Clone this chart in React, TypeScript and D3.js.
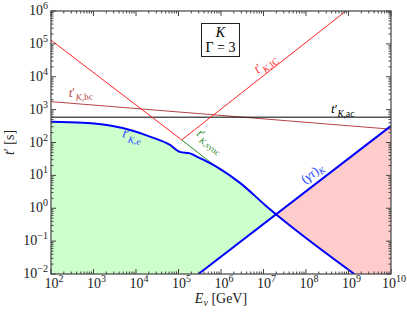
import React from "react";
import * as d3 from "d3";

// chart values
const xDomain = [1e2, 1e10];
const yDomain = [1e-2, 1e6];
const xDecades = [2, 3, 4, 5, 6, 7, 8, 9, 10];
const yDecades = [-2, -1, 0, 1, 2, 3, 4, 5, 6];

const icE = [1e2, 1.19e5, 8.7e8];
const icT = [1.3e5, 120, 1e6];
const hcE = [1e2, 1e10];
const hcT = [1750, 254];
const acE = [1e2, 1e10];
const acT = [590, 590];
const syncE = [1.19e5, 1e6];
const syncT = [120, 14];
const eE = [1e2, 566, 2443, 7230, 21300, 63000, 1.08e5, 1.87e5, 2.68e5, 5.51e5, 9.47e5, 2.8e6, 1.19e7, 1.37e9];
const eT = [431, 400, 330, 241, 151, 84.5, 51.8, 46.6, 37.3, 23.5, 15.8, 5.9, 1.13, 0.01];
const gtE = [2.95e5, 1e10];
const gtT = [0.01, 320];

const W = 407;
const H = 314;
const M = { top: 11, right: 16, bottom: 40, left: 51 };
const FONT = "Liberation Serif, DejaVu Serif, serif";

const zip = (a: number[], b: number[]) => a.map((v, i) => [v, b[i]] as [number, number]);

const Sub = ({ main, sub, italicSub, size = 13 }: any) => (
  <>
    <tspan fontStyle="italic">{main}</tspan>
    <tspan>′</tspan>
    <tspan fontSize={size * 0.72} dy={size * 0.3}>
      <tspan fontStyle="italic">K</tspan>
      {","}
      {italicSub ? <tspan fontStyle="italic">{sub}</tspan> : sub}
    </tspan>
  </>
);

export default function App() {
  const x = d3.scaleLog().domain(xDomain).range([M.left, W - M.right]);
  const y = d3.scaleLog().domain(yDomain).range([H - M.bottom, M.top]);
  const x0 = M.left, x1 = W - M.right, y0 = H - M.bottom, y1 = M.top;

  const line = d3
    .line<[number, number]>()
    .x((d) => x(d[0]))
    .y((d) => y(d[1]));
  const smooth = d3
    .line<[number, number]>()
    .x((d) => x(d[0]))
    .y((d) => y(d[1]))
    .curve(d3.curveMonotoneX);

  const ePts = zip(eE, eT);
  const gtPts = zip(gtE, gtT);

  // green: under t'_e, left of (γτ); red: under (γτ), above t'_e
  const greenArea = smooth(ePts) + "L" + x(xDomain[0]) + "," + y(yDomain[0]) + "Z";
  const aboveGt = line([...gtPts, [xDomain[1], yDomain[1]], [xDomain[0], yDomain[1]], [xDomain[0], yDomain[0]]]) + "Z";
  const redArea = line([...gtPts, [xDomain[1], yDomain[0]]]) + "Z";
  const aboveE =
    smooth(ePts) +
    "L" + x(xDomain[1]) + "," + y(yDomain[0]) +
    "L" + x(xDomain[1]) + "," + y(yDomain[1]) +
    "L" + x(xDomain[0]) + "," + y(yDomain[1]) + "Z";

  const minorX: number[] = [];
  xDecades.slice(0, -1).forEach((d) => {
    for (let k = 2; k < 10; k++) minorX.push(k * Math.pow(10, d));
  });
  const minorY: number[] = [];
  yDecades.slice(0, -1).forEach((d) => {
    for (let k = 2; k < 10; k++) minorY.push(k * Math.pow(10, d));
  });

  const ang = (Math.atan((y(1) - y(10)) / (x(10) - x(1))) * 180) / Math.PI;
  const axisCol = "#444";
  const exp = (n: number) => (n < 0 ? "−" + Math.abs(n) : String(n));

  return (
    <svg
      width={W}
      height={H}
      style={{ position: "absolute", left: 0, top: 0, background: "#fff", fontFamily: FONT }}
    >
      <defs>
        <clipPath id="plot">
          <rect x={x0} y={y1} width={x1 - x0} height={y0 - y1} />
        </clipPath>
        <clipPath id="aboveGt">
          <path d={aboveGt} />
        </clipPath>
        <clipPath id="aboveE">
          <path d={aboveE} />
        </clipPath>
      </defs>

      <g clipPath="url(#plot)">
        <g clipPath="url(#aboveGt)">
          <path d={greenArea} fill="#ccffcc" />
        </g>
        <g clipPath="url(#aboveE)">
          <path d={redArea} fill="#ffcccc" />
        </g>
        <path d={line(zip(hcE, hcT))!} fill="none" stroke="#b84444" strokeWidth={1} />
        <path d={line(zip(acE, acT))!} fill="none" stroke="#000" strokeWidth={1} />
        <path d={line(zip(icE, icT))!} fill="none" stroke="#ff2020" strokeWidth={1} />
        <path d={line(zip(syncE, syncT))!} fill="none" stroke="#2a8a2a" strokeWidth={1} />
        <path d={smooth(ePts)!} fill="none" stroke="#0000ff" strokeWidth={2} />
        <path d={line(gtPts)!} fill="none" stroke="#0000ff" strokeWidth={2} />
      </g>

      {/* frame + ticks */}
      <rect x={x0} y={y1} width={x1 - x0} height={y0 - y1} fill="none" stroke={axisCol} strokeWidth={1.2} />
      {xDecades.map((d) => {
        const px = x(Math.pow(10, d));
        return (
          <g key={"xm" + d} stroke={axisCol}>
            <line x1={px} x2={px} y1={y0} y2={y0 - 5} />
            <line x1={px} x2={px} y1={y1} y2={y1 + 5} />
          </g>
        );
      })}
      {minorX.map((v, i) => (
        <g key={"xn" + i} stroke={axisCol}>
          <line x1={x(v)} x2={x(v)} y1={y0} y2={y0 - 2.5} />
          <line x1={x(v)} x2={x(v)} y1={y1} y2={y1 + 2.5} />
        </g>
      ))}
      {yDecades.map((d) => {
        const py = y(Math.pow(10, d));
        return (
          <g key={"ym" + d} stroke={axisCol}>
            <line x1={x0} x2={x0 + 5} y1={py} y2={py} />
            <line x1={x1} x2={x1 - 5} y1={py} y2={py} />
          </g>
        );
      })}
      {minorY.map((v, i) => (
        <g key={"yn" + i} stroke={axisCol}>
          <line x1={x0} x2={x0 + 2.5} y1={y(v)} y2={y(v)} />
          <line x1={x1} x2={x1 - 2.5} y1={y(v)} y2={y(v)} />
        </g>
      ))}

      {/* tick labels */}
      {xDecades.map((d) => (
        <text key={"xl" + d} x={x(Math.pow(10, d)) + 3} y={y0 + 14} textAnchor="middle" fontSize={14} fill="#222">
          10<tspan fontSize={10} dy={-6}>{exp(d)}</tspan>
        </text>
      ))}
      {yDecades.map((d) => (
        <text key={"yl" + d} x={x0 - 3} y={y(Math.pow(10, d)) + 4} textAnchor="end" fontSize={14} fill="#222">
          10<tspan fontSize={10} dy={-6}>{exp(d)}</tspan>
        </text>
      ))}

      {/* axis titles */}
      <text x={(x0 + x1) / 2} y={303} textAnchor="middle" fontSize={14} fill="#222">
        <tspan fontStyle="italic">E</tspan>
        <tspan fontSize={10} dy={3} fontStyle="italic">ν</tspan>
        <tspan dy={-3}> [GeV]</tspan>
      </text>
      <text transform={`translate(14,${(y0 + y1) / 2}) rotate(-90)`} textAnchor="middle" fontSize={14} fill="#222">
        <tspan fontStyle="italic">t</tspan>′ [s]
      </text>

      {/* info box */}
      <rect x={201.5} y={23.5} width={38} height={33} fill="#fff" stroke="#222" strokeWidth={1} />
      <text x={220.5} y={37} textAnchor="middle" fontSize={14} fontStyle="italic">K</text>
      <text x={220.5} y={52} textAnchor="middle" fontSize={14}>Γ = 3</text>

      {/* curve labels */}
      <text transform={`translate(258,74) rotate(${-ang})`} fontSize={13} fill="#ff3030">
        <Sub main="t" sub="IC" size={13} />
      </text>
      <text transform={`translate(69,97) rotate(-3)`} fontSize={13} fill="#b84444">
        <Sub main="t" sub="hc" size={13} />
      </text>
      <text x={331} y={113} fontSize={13} fill="#000">
        <Sub main="t" sub="ac" size={13} />
      </text>
      <text transform={`translate(122,137) rotate(12)`} fontSize={13} fill="#2040ff">
        <Sub main="t" sub="e" italicSub size={13} />
      </text>
      <text transform={`translate(196,135) rotate(${ang})`} fontSize={12} fill="#2a8a2a">
        <Sub main="t" sub="sync" size={12} />
      </text>
      <text transform={`translate(305,184) rotate(${-ang})`} fontSize={13} fill="#2040ff">
        (<tspan fontStyle="italic">γτ</tspan>)<tspan fontSize={9} dy={3} fontStyle="italic">K</tspan>
      </text>
    </svg>
  );
}
